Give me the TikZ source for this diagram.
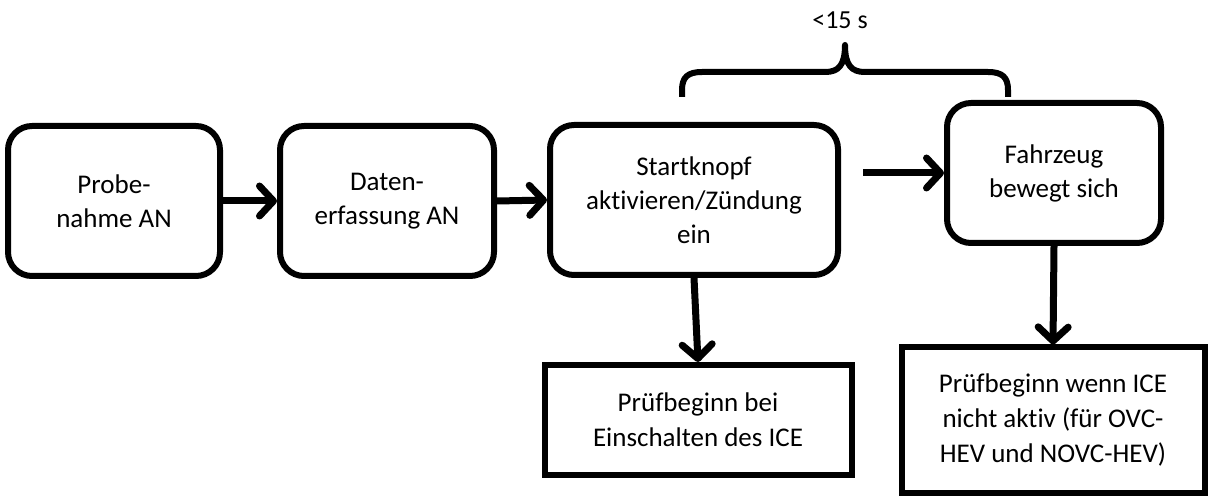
\documentclass[tikz,border=0pt]{standalone}
\usepackage{fontspec}
\setmainfont{Carlito}[Ligatures=NoCommon]
\usetikzlibrary{arrows.meta,positioning}

\begin{document}
\begin{tikzpicture}[x=1pt, y=-1pt,
  rbox/.style={rounded corners=24pt, draw, line width=6pt, align=center,
               inner sep=0pt, font=\fontsize{27}{34}\selectfont},
  sbox/.style={draw, line width=6pt, align=center,
               inner sep=0pt, font=\fontsize{27}{35}\selectfont},
  arr/.style={-{Straight Barb[length=14pt,width=30pt,round]}, line width=7pt},
  lbl/.style={draw=none, font=\fontsize{26}{30}\selectfont}
]
  \useasboundingbox (0,0) rectangle (1215,502);

  \node[rbox, minimum width=212pt, minimum height=150pt] (probe)    at (114,201)  {Probe-\\nahme AN};
  \node[rbox, minimum width=214pt, minimum height=150pt] (daten)    at (387,201)  {Daten-\\erfassung AN};
  \node[rbox, minimum width=288pt, minimum height=150pt] (start)    at (694,200)  {Startknopf\\aktivieren/Zündung\\ein};
  \node[rbox, minimum width=214pt, minimum height=140pt] (fahrzeug) at (1054,173) {Fahrzeug\\bewegt sich};
  \node[sbox, minimum width=307pt, minimum height=110pt] (icean)    at (698,420)  {Prüfbeginn bei\\Einschalten des ICE};
  \node[sbox, minimum width=303pt, minimum height=145pt] (iceaus)   at (1053,420) {Prüfbeginn wenn ICE\\nicht aktiv (für OVC-\\HEV und NOVC-HEV)};

  \coordinate (lücke) at ([xshift=22pt]start.east |- fahrzeug.west);

  \draw[arr] (probe.east)    -- (daten.west);
  \draw[arr] (daten.east)    -- (start.west);
  \draw[arr] (lücke)         -- (fahrzeug.west);
  \draw[arr] (start.south)   -- (icean.north);
  \draw[arr] (fahrzeug.south) -- (iceaus.north);

  % Klammer ueber Startknopf bis Fahrzeug
  \draw[line width=6pt, line join=round]
    (682,97) -- (682,90) .. controls (682,77) and (688,72) .. (702,72)
    -- (825,72) .. controls (838,72) and (845,66) .. (845,45)
    .. controls (845,66) and (852,72) .. (865,72)
    -- (988,72) .. controls (1002,72) and (1008,77) .. (1008,90) -- (1008,97);
  \node[lbl] (dauer) at (840,20) {<15 s};
\end{tikzpicture}
\end{document}
